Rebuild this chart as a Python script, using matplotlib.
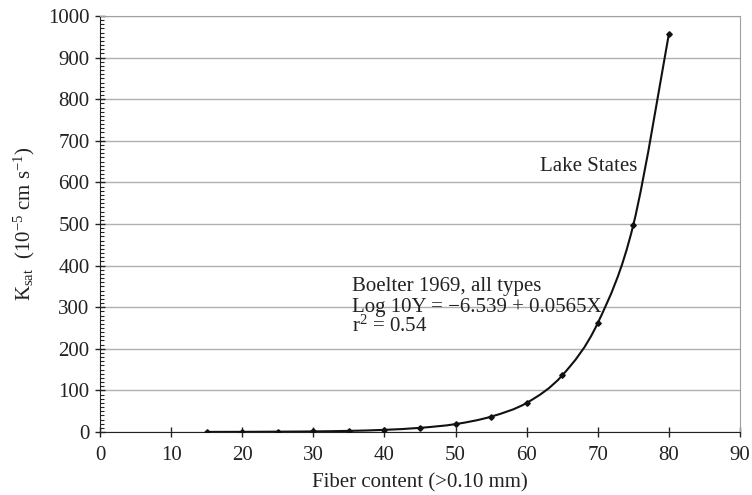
import numpy as np
import matplotlib
matplotlib.use('Agg')
import matplotlib.pyplot as plt
from matplotlib.path import Path
from matplotlib.patches import PathPatch
from matplotlib.ticker import MultipleLocator

plt.rcParams['font.family'] = ['Liberation Serif', 'DejaVu Serif']
plt.rcParams['mathtext.fontset'] = 'custom'
plt.rcParams['mathtext.rm'] = 'Liberation Serif'
plt.rcParams['mathtext.it'] = 'Liberation Serif:italic'

# Fiber content (%) and Ksat (10^-5 cm/s)
fiber = [15, 20, 25, 30, 35, 40, 45, 50, 55, 60, 65, 70, 75, 80]
ksat = [0.2, 0.4, 0.8, 1.4, 2.7, 5.2, 10, 19, 37, 70, 136, 262, 498, 957]

x_ticks = list(range(0, 91, 10))
y_ticks = list(range(0, 1001, 100))
note_lines = ['Boelter 1969, all types', 'Log 10Y = \u22126.539 + 0.0565X', 'r$^2$ = 0.54']

fig = plt.figure(figsize=(7.52, 4.95), dpi=100)
ax = fig.add_axes([100 / 752, 63 / 495, 640 / 752, 416 / 495])

# smooth curve through the points (cubic Bezier, catmull-rom style)
pts = np.column_stack([fiber, ksat])
verts = [pts[0]]
codes = [Path.MOVETO]
for i in range(len(pts) - 1):
    p0 = pts[i - 1] if i > 0 else pts[i]
    p1, p2 = pts[i], pts[i + 1]
    p3 = pts[i + 2] if i + 2 < len(pts) else pts[i + 1]
    c1 = p1 + (p2 - p0) / 6
    c2 = p2 - (p3 - p1) / 6
    verts += [c1, c2, p2]
    codes += [Path.CURVE4] * 3
ax.add_patch(PathPatch(Path(verts, codes), fill=False, color='#111111', lw=1.5, zorder=3))
ax.plot(fiber, ksat, ls='none', marker='D', ms=2.8, color='#111111', zorder=4)

ax.set_xlim(0, 90)
ax.set_ylim(0, 1000)
ax.set_xticks(x_ticks)
ax.set_yticks(y_ticks)
ax.yaxis.set_minor_locator(MultipleLocator(10))
ax.grid(axis='y', color='#b0b0b0', lw=1)
ax.set_axisbelow(True)

for s in ['top', 'right']:
    ax.spines[s].set_color('#a0a0a0')
for s in ['left', 'bottom']:
    ax.spines[s].set_color('#222222')
ax.tick_params(which='major', direction='inout', length=7, width=1, color='#222222',
               labelsize=15, labelcolor='#222222')
ax.tick_params(axis='x', which='major', pad=6.5)
ax.tick_params(axis='y', which='major', pad=4)
ax.tick_params(axis='y', which='minor', direction='in', length=3, width=0.8, color='#222222')
ax.tick_params(axis='x', which='minor', length=0)

ax.set_xlabel('Fiber content (>0.10 mm)', fontsize=15, color='#222222', labelpad=6)
ax.set_ylabel(r'K$_{\mathrm{sat}}$  (10$^{-5}$ cm s$^{-1}$)', fontsize=15, color='#222222', labelpad=8)

for line, y in zip(note_lines, [339, 288.5, 240]):
    ax.text(35.4, y, line, fontsize=15, color='#222222', va='baseline', ha='left')
ax.text(61.9, 627, 'Lake States', fontsize=15, color='#222222', va='baseline', ha='left')

fig.savefig('out.png', dpi=100)
